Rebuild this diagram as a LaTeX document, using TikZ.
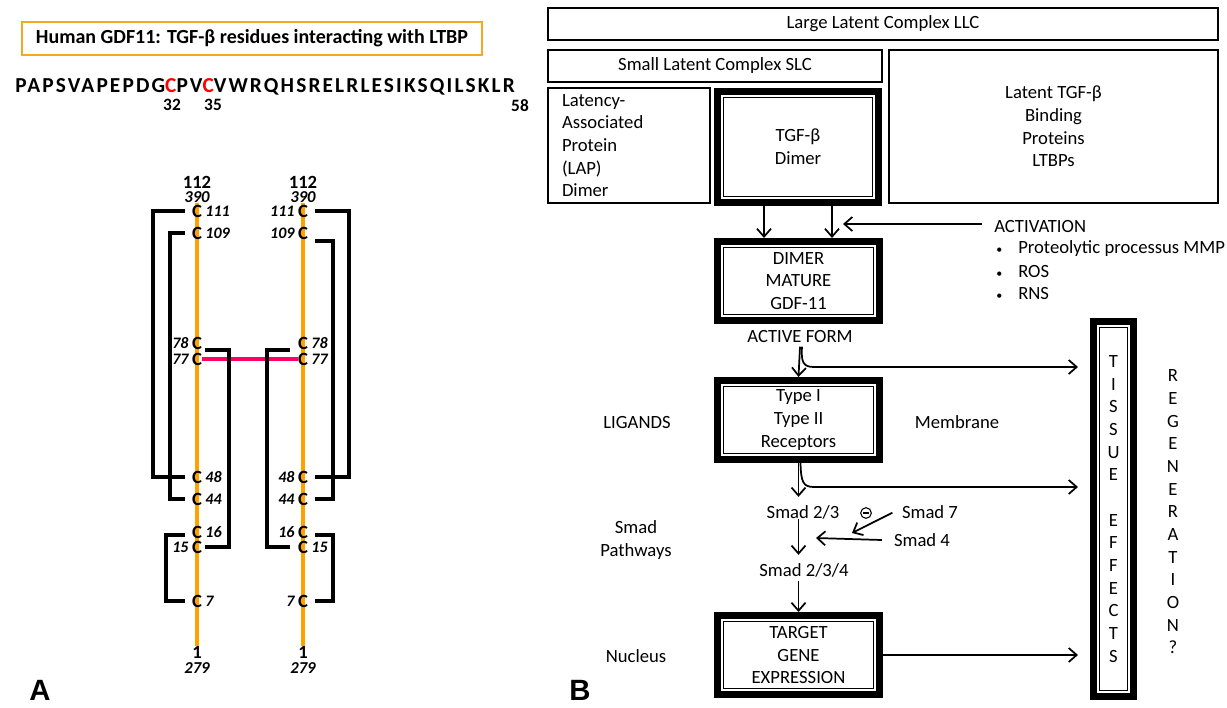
\documentclass[tikz,border=0pt]{standalone}
\usepackage{fontspec}
\setmainfont{Carlito}
\newfontfamily\seqfont{Carlito}[LetterSpace=10]
\newfontfamily\labfont{Liberation Sans}
\usetikzlibrary{arrows.meta}
\definecolor{chainor}{HTML}{FFA200}
\definecolor{titleor}{HTML}{F6A823}
\definecolor{linkpink}{HTML}{FF0066}
\begin{document}
\begin{tikzpicture}[x=0.75pt,y=-0.75pt,
  txt/.style={font=\fontsize{14pt}{17pt}\selectfont, inner sep=0pt, align=center},
  sbox/.style={draw, line width=1pt, inner sep=0pt, align=center, font=\fontsize{14pt}{17pt}\selectfont},
  dbox/.style={draw, line width=5.25pt, inner sep=0pt, align=center, font=\fontsize{14pt}{17pt}\selectfont,
    path picture={\draw[line width=0.8pt] ([shift={(4.5pt,-4.5pt)}]path picture bounding box.north west) rectangle ([shift={(-4.5pt,4.5pt)}]path picture bounding box.south east);}},
  arr/.style={-{Straight Barb[length=6pt,width=10.5pt]}, line width=1.3pt},
  bond/.style={line width=3pt, line join=miter},
  chain/.style={line width=3pt, draw=chainor},
  cc/.style={font=\bfseries\fontsize{14pt}{14pt}\selectfont, inner sep=0pt, text height=9pt, text depth=0pt},
  num/.style={font=\bfseries\itshape\fontsize{12pt}{12pt}\selectfont, inner sep=0pt, text height=8.5pt, text depth=0pt},
  endlab/.style={font=\bfseries\fontsize{14pt}{14pt}\selectfont, inner sep=0pt, text height=9pt, text depth=0pt},
  endnum/.style={font=\bfseries\itshape\fontsize{12.5pt}{12.5pt}\selectfont, inner sep=0pt, text height=8.5pt, text depth=0pt},
  seqnum/.style={font=\bfseries\fontsize{13pt}{13pt}\selectfont, inner sep=0pt},
  panel/.style={font=\labfont\bfseries\fontsize{22pt}{22pt}\selectfont, inner sep=0pt}
]
\useasboundingbox (0,0) rectangle (1227,707);

% ---------------- Panel A ----------------
\node[draw=titleor, line width=1.2pt, minimum width=345pt, minimum height=24.75pt, inner sep=0pt,
      font=\bfseries\fontsize{15pt}{15pt}\selectfont] (title) at (252,38.5)
      {Human GDF11: TGF-β residues interacting with LTBP};
\node[anchor=west, inner sep=0pt, font=\seqfont\bfseries\fontsize{16pt}{16pt}\selectfont] (seq) at (15,87)
      {PAPSVAPEPDG\textcolor{red}{C}PV\textcolor{red}{C}VWRQHSRELRLESIKSQILSKLR};
\node[seqnum] (n32) at (172,105) {32};
\node[seqnum] (n35) at (213,105) {35};
\node[seqnum] (n58) at (520,106) {58};

% left chain
\node[endlab] (Ltop) at (197,182) {112};
\node[endnum] (L390) at (197,197) {390};
\node[endlab] (Lone) at (197,652) {1};
\node[endnum] (L279) at (197,668) {279};
\draw[chain] (L390.south) -- (Lone.north);
% right chain
\node[endlab] (Rtop) at (303,182) {112};
\node[endnum] (R390) at (303,197) {390};
\node[endlab] (Rone) at (303,652) {1};
\node[endnum] (R279) at (303,668) {279};
\draw[chain] (R390.south) -- (Rone.north);

% cysteines
\foreach \n/\y in {111/211,109/233,78/343,77/359,48/477,44/499,16/532,15/547,7/601}{
  \node[cc] (LC\n) at (197,\y) {C};
  \node[cc] (RC\n) at (303,\y) {C};
}
% residue numbers
\foreach \n in {111,109,48,44,16,7}{
  \node[num, anchor=west] (LN\n) at ([xshift=2.25pt]LC\n.east) {\n};
  \node[num, anchor=east] (RN\n) at ([xshift=-2.25pt]RC\n.west) {\n};
}
\foreach \n in {78,77,15}{
  \node[num, anchor=east] (LN\n) at ([xshift=-2.25pt]LC\n.west) {\n};
  \node[num, anchor=west] (RN\n) at ([xshift=2.25pt]RC\n.east) {\n};
}
% interchain disulfide
\draw[line width=3pt, draw=linkpink] (LC77.east) -- (RC77.west);

% disulfide brackets, left chain
\draw[bond] ([xshift=-5.25pt]LC111.west) -- ++(-32,0) |- ([xshift=-5.25pt]LC48.west);
\draw[bond] ([xshift=-5.25pt]LC109.west) -- ++(-15,0) |- ([xshift=-5.25pt]LC44.west);
\draw[bond] ([xshift=2.25pt,yshift=-5.25pt]LC78.east) -- ++(24,0) |- ([xshift=2.25pt]LC15.east);
\draw[bond] ([xshift=-5.25pt,yshift=-2.25pt]LC16.west) -- ++(-19,0) |- ([xshift=-5.25pt]LC7.west);
% right chain
\draw[bond] ([xshift=5.25pt]RC111.east) -- ++(34,0) |- ([xshift=5.25pt]RC48.east);
\draw[bond] ([xshift=5.25pt,yshift=-6pt]RC109.east) -- ++(18,0) |- ([xshift=5.25pt]RC44.east);
\draw[bond] ([xshift=-6pt,yshift=-5.25pt]RC78.west) -- ++(-23,0) |- ([xshift=-6pt]RC15.west);
\draw[bond] ([xshift=5.25pt,yshift=-2.25pt]RC16.east) -- ++(18,0) |- ([xshift=5.25pt]RC7.east);

\node[panel] (labA) at (40,690) {A};

% ---------------- Panel B ----------------
\node[sbox, minimum width=502.5pt, minimum height=24pt] (llc) at (883,24) {Large Latent Complex LLC};
\node[sbox, minimum width=250.5pt, minimum height=24pt] (slc) at (715,66) {Small Latent Complex SLC};
\node[sbox, minimum height=86.25pt, text width=100.5pt, align=left, inner xsep=10.5pt] (lap) at (629,145.5)
   {Latency-\\Associated\\Protein\\(LAP)\\Dimer};
\node[dbox, minimum width=120.75pt, minimum height=83.25pt] (tgfb) at (798,147) {TGF-β\\Dimer};
\node[sbox, minimum width=246.75pt, minimum height=114.75pt] (ltbp) at (1053.5,126.5)
   {Latent TGF-β\\Binding\\Proteins\\LTBPs};

\node[dbox, minimum width=121.5pt, minimum height=59.25pt] (dimer) at (798.5,281) {DIMER\\MATURE\\GDF-11};
\node[txt] (actv) at (800,337) {ACTIVE FORM};
\node[dbox, minimum width=121.5pt, minimum height=59.25pt] (recep) at (798.5,420) {Type I\\Type II\\Receptors};
\node[txt] (smad23) at (803,512) {Smad 2/3};
\node[txt] (smad7) at (930,512) {Smad 7};
\node[txt] (smad4) at (922,540) {Smad 4};
\node[txt] (smad234) at (804,570) {Smad 2/3/4};
\node[dbox, minimum width=121.5pt, minimum height=59.25pt] (target) at (798.5,655) {TARGET\\GENE\\EXPRESSION};
\node[dbox, minimum width=30pt, minimum height=281.25pt] (tissue) at (1113.5,509)
   {T\\I\\S\\S\\U\\E\\~\\E\\F\\F\\E\\C\\T\\S};
\node[txt] (regen) at (1173,512) {R\\E\\G\\E\\N\\E\\R\\A\\T\\I\\O\\N\\?};

\node[txt] (ligands) at (637,422) {LIGANDS};
\node[txt] (membrane) at (957,422) {Membrane};
\node[txt] (smadpath) at (636,540) {Smad\\Pathways};
\node[txt] (nucleus) at (636,656) {Nucleus};

\node[txt, anchor=west] (activ) at (994,227) {ACTIVATION};
\node[txt, anchor=west] (b1) at (996,249) {\makebox[16.5pt][l]{\small•}Proteolytic processus MMP};
\node[txt, anchor=west] (b2) at (996,272) {\makebox[16.5pt][l]{\small•}ROS};
\node[txt, anchor=west] (b3) at (996,294) {\makebox[16.5pt][l]{\small•}RNS};

\node[draw, circle, line width=0.8pt, minimum size=8pt, inner sep=0pt,
  path picture={\draw[line width=0.8pt] ([xshift=-2pt]path picture bounding box.center) -- ([xshift=2pt]path picture bounding box.center);}]
  (inhib) at (866,513) {};

% arrows
\draw[arr] (tgfb.south -| 764,0) -- (dimer.north -| 764,0);
\draw[arr] (tgfb.south -| 832,0) -- (dimer.north -| 832,0);
\coordinate (actend) at (843,224);
\draw[arr] ([xshift=-9pt,yshift=2.25pt]activ.west) -- (actend);

\draw[arr] ([yshift=-2.5pt]actv.south) -- (recep.north);
\draw[arr, shorten >=9pt] ([xshift=1.5pt,yshift=-2.5pt]actv.south) .. controls (801,362) and (803,367) .. (814,367) -- (tissue.west |- 0,367);

\draw[arr, shorten >=6pt] (recep.south) -- (smad23.north -| recep.south);
\draw[arr, shorten >=9pt] ([xshift=1.5pt]recep.south) .. controls (801,482) and (803,487) .. (814,487) -- (tissue.west |- 0,487);

\draw[arr, shorten >=6pt] (smad23.south -| recep.south) -- (smad234.north -| recep.south);
\draw[arr, shorten <=3pt] (smad234.south -| recep.south) -- (target.north);
\draw[arr, shorten >=9pt] (target.east) -- (tissue.west |- target.east);

\coordinate (s7end) at (852,533);
\coordinate (s4end) at (816,538);
\draw[arr] ([xshift=-7pt,yshift=-0.5pt]smad7.west) -- (s7end);
\draw[arr] ([xshift=-9pt]smad4.west) -- (s4end);

\node[panel] (labB) at (580,690) {B};
\end{tikzpicture}
\end{document}
